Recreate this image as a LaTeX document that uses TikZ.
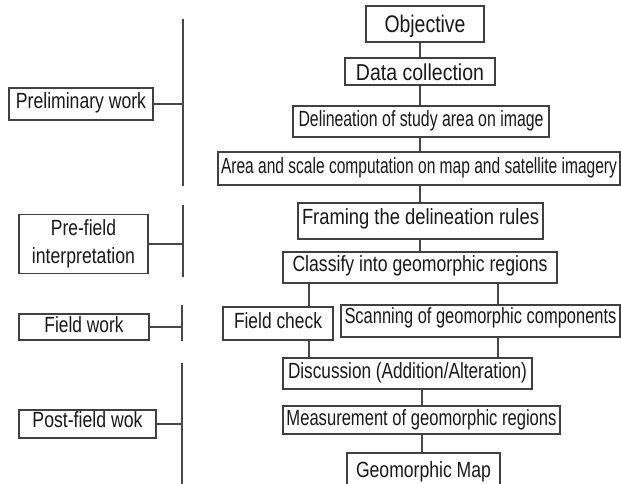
\documentclass[tikz,border=0pt]{standalone}
\usepackage{fontspec}
\setmainfont{Liberation Sans}
\usepackage{graphicx}
\newcommand\fitw[2]{\resizebox{#1pt}{\height}{#2}}
\tikzset{
  box/.style={draw=black!75, line width=1.8pt, rectangle, inner sep=0pt, text=black!90,
    font=\fontsize{22}{28}\selectfont, align=center},
  bl/.style={text height=#1, text depth=0pt},
  link/.style={draw=black!72, line width=1.8pt},
}
\begin{document}
\begin{tikzpicture}[x=1pt,y=-1pt]
\clip (0,0) rectangle (621,483);
\fill[white] (0,0) rectangle (621,483);
% right column
\node[box, font=\fontsize{24}{28}\selectfont, bl=16pt, minimum width=118pt, minimum height=36pt] (obj) at (425,24) {\fitw{81}{Objective}};
\node[box, font=\fontsize{23}{28}\selectfont, bl=18pt, minimum width=150pt, minimum height=27pt] (data) at (420,71.5) {\fitw{128}{Data collection}};
\node[box, bl=10pt, minimum width=256pt, minimum height=31pt] (delin) at (421,121.5) {\fitw{245}{Delineation of study area on image}};
\node[box, bl=9pt, minimum width=402pt, minimum height=33pt] (area) at (419,168.5) {\fitw{396}{Area and scale computation on map and satellite imagery}};
\node[box, bl=6pt, minimum width=245pt, minimum height=36pt] (frame) at (420.5,221) {\fitw{237}{Framing the delineation rules}};
\node[box, bl=7pt, minimum width=274pt, minimum height=31pt] (class) at (420,267.5) {\fitw{255}{Classify into geomorphic regions}};
\node[box, bl=9pt, minimum width=110pt, minimum height=33pt] (fcheck) at (278,323.5) {\fitw{88}{Field check}};
\node[box, bl=4pt, minimum width=279pt, minimum height=32pt] (scan) at (480.5,321) {\fitw{272}{Scanning of geomorphic components}};
\node[box, bl=10pt, minimum width=249pt, minimum height=31pt] (disc) at (407.5,373.5) {\fitw{239}{Discussion (Addition/Alteration)}};
\node[box, bl=11pt, minimum width=277pt, minimum height=28pt] (meas) at (421.5,420) {\fitw{270}{Measurement of geomorphic regions}};
\node[box, bl=12pt, minimum width=153pt, minimum height=36pt] (map) at (423.5,471) {\fitw{135}{Geomorphic Map}};
% left column
\node[box, bl=8pt, minimum width=144pt, minimum height=32pt] (prelim) at (81,104) {\fitw{130}{Preliminary work}};
\node[box, minimum width=129pt, minimum height=59pt] (pref) at (83.5,244) {\fitw{65}{Pre-field}\\\fitw{103}{interpretation}};
\node[box, bl=11pt, minimum width=130pt, minimum height=26pt] (fwork) at (84,327) {\fitw{79}{Field work}};
\node[box, bl=6pt, minimum width=137pt, minimum height=28pt] (post) at (87.5,424) {\fitw{110}{Post-field wok}};
% bars
\coordinate (b1t) at (183,19); \coordinate (b1b) at (183,186);
\coordinate (b2t) at (183,205); \coordinate (b2b) at (183,277);
\coordinate (b3t) at (182,305); \coordinate (b3b) at (182,341);
\coordinate (b4t) at (182,363); \coordinate (b4b) at (182,490);
\draw[link] (b1t) -- (b1b);
\draw[link] (b2t) -- (b2b);
\draw[link] (b3t) -- (b3b);
\draw[link] (b4t) -- (b4b);
\draw[link] (prelim.east) -- (prelim.east -| b1t);
\draw[link] (pref.east) -- (pref.east -| b2t);
\draw[link] (fwork.east) -- (fwork.east -| b3t);
\draw[link] (post.east) -- (post.east -| b4t);
% spine connectors
\coordinate (sp) at (420,0);
\coordinate (lc) at (309,0);
\coordinate (rc) at (498,0);
\coordinate (bs) at (422,0);
\draw[link] (obj.south -| sp) -- (data.north -| sp);
\draw[link] (data.south -| sp) -- (delin.north -| sp);
\draw[link] (delin.south -| sp) -- (area.north -| sp);
\draw[link] (area.south -| sp) -- (frame.north -| sp);
\draw[link] (frame.south -| sp) -- (class.north -| sp);
\draw[link] (class.south -| lc) -- (fcheck.north -| lc);
\draw[link] (class.south -| rc) -- (scan.north -| rc);
\draw[link] (fcheck.south -| lc) -- (disc.north -| lc);
\draw[link] (scan.south -| rc) -- (disc.north -| rc);
\draw[link] (disc.south -| bs) -- (meas.north -| bs);
\draw[link] (meas.south -| bs) -- (map.north -| bs);
\end{tikzpicture}
\end{document}
